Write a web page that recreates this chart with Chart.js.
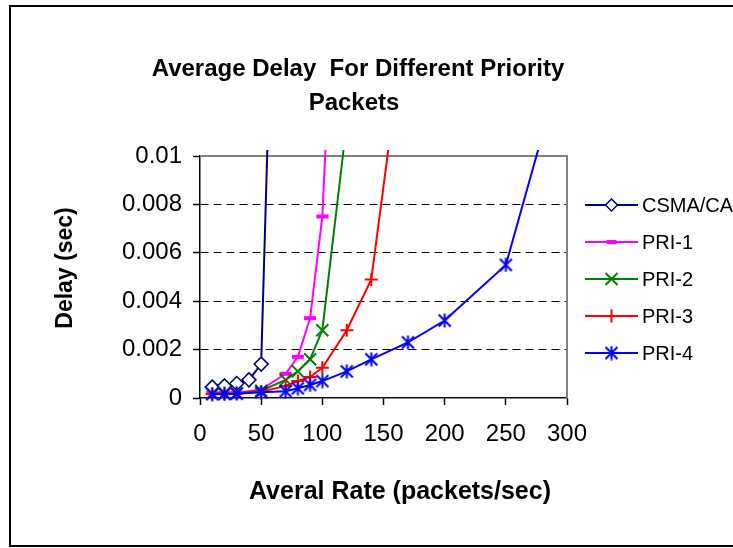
<!DOCTYPE html>
<html>
<head>
<meta charset="utf-8">
<script src="https://cdn.jsdelivr.net/npm/chart.js@4/dist/chart.umd.min.js"></script>
<style>
  html, body { margin: 0; padding: 0; background: #fff; }
  canvas { display: block; }
</style>
</head>
<body>
<canvas id="c" width="733" height="548"></canvas>
<script>
// Average delay (sec) against offered rate (packets/sec) for each scheme
const seriesNames = ['CSMA/CA', 'PRI-1', 'PRI-2', 'PRI-3', 'PRI-4'];

const csmaRate  = [10, 20, 30, 40, 50, 60];
const csmaDelay = [0.00045, 0.0005, 0.0006, 0.00075, 0.0014, 0.019];

const pri1Rate  = [10, 20, 30, 50, 70, 80, 90, 100, 110];
const pri1Delay = [0.0002, 0.0002, 0.00022, 0.00035, 0.001, 0.0017, 0.0033, 0.0075, 0.0184];

const pri2Rate  = [10, 20, 30, 50, 70, 80, 90, 100, 120];
const pri2Delay = [0.00018, 0.0002, 0.0002, 0.0003, 0.00075, 0.0011, 0.0016, 0.0028, 0.0114];

const pri3Rate  = [10, 20, 30, 50, 70, 80, 90, 100, 120, 140, 160];
const pri3Delay = [0.00017, 0.00018, 0.0002, 0.00026, 0.0005, 0.0007, 0.00087, 0.00125, 0.0028, 0.0049, 0.0126];

const pri4Rate  = [10, 20, 30, 50, 70, 80, 90, 100, 120, 140, 170, 200, 250, 300];
const pri4Delay = [0.00016, 0.00017, 0.00018, 0.00024, 0.00028, 0.0004, 0.00054, 0.0007, 0.0011, 0.0016, 0.0023, 0.0032, 0.0055, 0.0145];

const xTickLabels = ['0', '50', '100', '150', '200', '250', '300'];
const yTickLabels = ['0', '0.002', '0.004', '0.006', '0.008', '0.01'];

const chartTitle = ['Average Delay  For Different Priority', 'Packets'];
const xTitle = 'Averal Rate (packets/sec)';
const yTitle = 'Delay (sec)';

const FONT = '"Liberation Sans", Arial, sans-serif';

function points(xs, ys) {
  return xs.map((x, i) => ({ x: x, y: ys[i] }));
}

// Asterisk marker: one vertical stroke crossed by two diagonals
function asteriskMarker(color, size, lw) {
  const c = document.createElement('canvas');
  c.width = size; c.height = size;
  const g = c.getContext('2d');
  g.strokeStyle = color;
  g.lineWidth = lw;
  const m = size / 2, e = 1.5;
  g.beginPath();
  g.moveTo(m, 0.5); g.lineTo(m, size - 0.5);
  g.moveTo(e, e); g.lineTo(size - e, size - e);
  g.moveTo(size - e, e); g.lineTo(e, size - e);
  g.stroke();
  return c;
}

const styles = [
  { color: '#000080', pointStyle: 'rectRot', radius: 7, legendRadius: 6, pbw: 1.5, fill: '#ffffff', order: 4 },
  { color: '#ff00ff', pointStyle: 'line', radius: 6, legendRadius: 5, pbw: 4, fill: '#ff00ff', order: 3 },
  { color: '#008000', pointStyle: 'crossRot', radius: 8.5, legendRadius: 8.5, pbw: 2, fill: '#008000', order: 2 },
  { color: '#ff0000', pointStyle: 'cross', radius: 6.5, legendRadius: 6.5, pbw: 2, fill: '#ff0000', order: 1 },
  { color: '#0000ff', pointStyle: asteriskMarker('#0000ff', 15, 2), radius: 7, legendRadius: 7, pbw: 2, fill: '#0000ff', order: 0 }
];

const seriesData = [
  points(csmaRate, csmaDelay),
  points(pri1Rate, pri1Delay),
  points(pri2Rate, pri2Delay),
  points(pri3Rate, pri3Delay),
  points(pri4Rate, pri4Delay)
];

const datasets = seriesNames.map((name, i) => ({
  label: name,
  data: seriesData[i],
  showLine: true,
  tension: 0,
  borderColor: styles[i].color,
  backgroundColor: styles[i].fill,
  borderWidth: 2,
  pointStyle: styles[i].pointStyle,
  pointRadius: styles[i].radius,
  pointHoverRadius: styles[i].radius,
  pointBorderWidth: styles[i].pbw,
  pointBorderColor: styles[i].color,
  pointBackgroundColor: styles[i].fill,
  clip: { left: 12, top: 6, right: 0, bottom: 12 },
  order: styles[i].order
}));

const decorations = {
  id: 'decorations',
  beforeDraw(chart) {
    const ctx = chart.ctx;
    ctx.save();
    ctx.fillStyle = '#ffffff';
    ctx.fillRect(0, 0, chart.width, chart.height);
    ctx.restore();
  },
  beforeDatasetsDraw(chart) {
    // grey frame on the top and right of the plot area
    const { ctx, chartArea: a } = chart;
    ctx.save();
    ctx.strokeStyle = '#808080';
    ctx.lineWidth = 2;
    ctx.beginPath();
    ctx.moveTo(a.left, a.top);
    ctx.lineTo(a.right, a.top);
    ctx.lineTo(a.right, a.bottom);
    ctx.stroke();
    ctx.restore();
  },
  afterDraw(chart) {
    const ctx = chart.ctx;
    ctx.save();

    // outer chart border
    ctx.strokeStyle = '#000';
    ctx.lineWidth = 2;
    ctx.strokeRect(10, 6, 740, 540);

    ctx.fillStyle = '#000';
    ctx.textAlign = 'center';
    ctx.textBaseline = 'middle';

    // chart title
    ctx.font = 'bold 24px ' + FONT;
    ctx.fillText(chartTitle[0], 358, 69);
    ctx.fillText(chartTitle[1], 354, 103);

    // axis titles
    ctx.font = 'bold 25px ' + FONT;
    ctx.fillText(xTitle, 400, 492);

    ctx.save();
    ctx.translate(66, 268);
    ctx.rotate(-Math.PI / 2);
    ctx.font = 'bold 23px ' + FONT;
    ctx.fillText(yTitle, 0, 0);
    ctx.restore();

    // legend
    const legendY = [205, 242, 279, 316, 353];
    ctx.textAlign = 'left';
    ctx.font = '20px ' + FONT;
    seriesNames.forEach((name, i) => {
      const s = styles[i];
      const y = legendY[i];
      ctx.strokeStyle = s.color;
      ctx.lineWidth = 2;
      ctx.beginPath();
      ctx.moveTo(585, y);
      ctx.lineTo(638, y);
      ctx.stroke();

      ctx.save();
      ctx.strokeStyle = s.color;
      ctx.fillStyle = s.fill;
      ctx.lineWidth = s.pbw;
      Chart.helpers.drawPoint(ctx, { pointStyle: s.pointStyle, rotation: 0, radius: s.legendRadius, borderWidth: s.pbw }, 611.5, y);
      ctx.restore();

      ctx.fillStyle = '#000';
      ctx.fillText(name, 642, y + 1);
    });

    ctx.restore();
  }
};

new Chart(document.getElementById('c'), {
  type: 'scatter',
  data: { datasets: datasets },
  options: {
    responsive: false,
    animation: false,
    events: [],
    layout: { padding: { left: 0, top: 156, right: 166, bottom: 90 } },
    plugins: {
      legend: { display: false },
      title: { display: false },
      tooltip: { enabled: false }
    },
    scales: {
      x: {
        type: 'linear',
        min: 0,
        max: 300,
        afterBuildTicks: s => { s.ticks = xTickLabels.map(t => ({ value: Number(t) })); },
        afterFit: s => { s.height = 60; },
        ticks: {
          callback: (v, i) => xTickLabels[i],
          color: '#000',
          font: { family: FONT, size: 24 },
          padding: 15,
          maxRotation: 0,
          autoSkip: false
        },
        grid: {
          drawOnChartArea: false,
          drawTicks: true,
          tickLength: 7,
          tickColor: '#000',
          tickWidth: 1.5
        },
        border: { display: true, color: '#111', width: 1.5 }
      },
      y: {
        type: 'linear',
        min: 0,
        max: 0.01,
        afterBuildTicks: s => { s.ticks = yTickLabels.map(t => ({ value: Number(t) })); },
        afterFit: s => { s.width = 200; },
        ticks: {
          callback: (v, i) => yTickLabels[i],
          color: '#000',
          font: { family: FONT, size: 24 },
          padding: 11,
          autoSkip: false
        },
        grid: {
          color: c => (c.index === 0 || c.index === yTickLabels.length - 1) ? 'rgba(0,0,0,0)' : '#000',
          lineWidth: 1,
          drawTicks: true,
          tickLength: 7,
          tickColor: '#000',
          tickWidth: 1.5,
          tickBorderDash: []
        },
        border: { display: true, color: '#000', width: 1.5, dash: [8, 5] }
      }
    }
  },
  plugins: [decorations]
});
</script>
</body>
</html>
